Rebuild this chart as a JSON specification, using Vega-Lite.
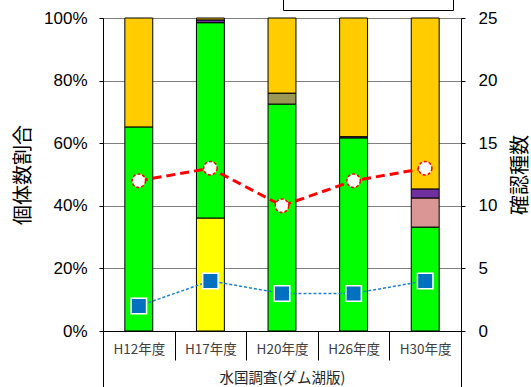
{
  "$schema": "https://vega.github.io/schema/vega-lite/v6.json",
  "width": 358,
  "height": 313,
  "autosize": {"type": "none"},
  "padding": {"left": 103, "top": 18, "right": 70, "bottom": 56},
  "background": "white",
  "config": {
    "view": {"stroke": "#7f7f7f", "strokeWidth": 1},
    "font": "Liberation Sans"
  },
  "datasets": {
    "bars": [
      {"survey": "H12年度", "species": "種Ｂ", "ord": 2, "share": 0.652},
      {"survey": "H12年度", "species": "その他", "ord": 6, "share": 0.348},
      {"survey": "H17年度", "species": "種Ａ", "ord": 1, "share": 0.361},
      {"survey": "H17年度", "species": "種Ｂ", "ord": 2, "share": 0.624},
      {"survey": "H17年度", "species": "種Ｅ", "ord": 5, "share": 0.009},
      {"survey": "H17年度", "species": "その他", "ord": 6, "share": 0.006},
      {"survey": "H20年度", "species": "種Ｂ", "ord": 2, "share": 0.725},
      {"survey": "H20年度", "species": "種Ｄ", "ord": 4, "share": 0.035},
      {"survey": "H20年度", "species": "その他", "ord": 6, "share": 0.240},
      {"survey": "H26年度", "species": "種Ｂ", "ord": 2, "share": 0.617},
      {"survey": "H26年度", "species": "種Ｅ", "ord": 5, "share": 0.004},
      {"survey": "H26年度", "species": "その他", "ord": 6, "share": 0.379},
      {"survey": "H30年度", "species": "種Ｂ", "ord": 2, "share": 0.332},
      {"survey": "H30年度", "species": "種Ｃ", "ord": 3, "share": 0.093},
      {"survey": "H30年度", "species": "種Ｅ", "ord": 5, "share": 0.029},
      {"survey": "H30年度", "species": "その他", "ord": 6, "share": 0.546}
    ],
    "lines": [
      {"survey": "H12年度", "series": "全種", "count": 12},
      {"survey": "H17年度", "series": "全種", "count": 13},
      {"survey": "H20年度", "series": "全種", "count": 10},
      {"survey": "H26年度", "series": "全種", "count": 12},
      {"survey": "H30年度", "series": "全種", "count": 13},
      {"survey": "H12年度", "series": "外来種", "count": 2},
      {"survey": "H17年度", "series": "外来種", "count": 4},
      {"survey": "H20年度", "series": "外来種", "count": 3},
      {"survey": "H26年度", "series": "外来種", "count": 3},
      {"survey": "H30年度", "series": "外来種", "count": 4}
    ]
  },
  "encoding": {
    "x": {
      "field": "survey",
      "type": "nominal",
      "sort": ["H12年度", "H17年度", "H20年度", "H26年度", "H30年度"],
      "scale": {"paddingInner": 0, "paddingOuter": 0},
      "title": "水国調査(ダム湖版)",
      "axis": {
        "orient": "bottom",
        "labelAngle": 0,
        "tickBand": "extent",
        "tickSize": {"condition": {"test": "!datum.value || datum.value == 'H30年度'", "value": 56}, "value": 29},
        "tickColor": "black",
        "tickWidth": 1,
        "domainColor": "black",
        "labelFont": "Noto Sans CJK JP",
        "labelFontSize": 13.5,
        "labelColor": "#404040",
        "labelPadding": {"condition": {"test": "datum.value == 'H30年度'", "value": -45}, "value": -18},
        "titleFont": "Noto Sans CJK JP",
        "titleFontSize": 14.5,
        "titleFontWeight": "normal",
        "titleColor": "#262626",
        "titleY": 47,
        "titleBaseline": "middle",
        "grid": false
      }
    }
  },
  "layer": [
    {
      "data": {"name": "bars"},
      "mark": {"type": "bar", "stroke": "black", "strokeWidth": 1, "width": {"band": 0.39}},
      "encoding": {
        "y": {
          "field": "share",
          "type": "quantitative",
          "stack": true,
          "scale": {"domain": [0, 1], "nice": false},
          "title": "個体数割合",
          "axis": {
            "values": [0, 0.2, 0.4, 0.6, 0.8, 1],
            "format": ".0%",
            "grid": true,
            "gridColor": "#7f7f7f",
            "gridWidth": 1,
            "domainColor": "black",
            "tickColor": "black",
            "tickSize": 4,
            "labelPadding": 12,
            "labelFontSize": 17,
            "labelColor": "black",
            "titleFont": "Noto Sans CJK JP",
            "titleFontSize": 20,
            "titleFontWeight": "normal",
            "titleColor": "black",
            "titlePadding": 10
          }
        },
        "fill": {
          "field": "species",
          "type": "nominal",
          "scale": {
            "domain": ["種Ａ", "種Ｂ", "種Ｃ", "種Ｄ", "種Ｅ", "その他"],
            "range": ["#FFFF00", "#00FF00", "#D99694", "#999955", "#7030A0", "#FFCC00"]
          },
          "legend": {
            "orient": "none",
            "legendX": 180,
            "legendY": -136,
            "title": null,
            "direction": "vertical",
            "columns": 1,
            "symbolType": "square",
            "symbolSize": 100,
            "symbolStrokeColor": "black",
            "labelFont": "Noto Sans CJK JP",
            "labelFontSize": 10,
            "labelOffset": 104,
            "padding": 12,
            "rowPadding": 2,
            "strokeColor": "black",
            "fillColor": "white"
          }
        },
        "order": {"field": "ord", "type": "quantitative"}
      }
    },
    {
      "data": {"name": "lines"},
      "encoding": {
        "y": {
          "field": "count",
          "type": "quantitative",
          "scale": {"domain": [0, 25], "nice": false},
          "title": "確認種数",
          "axis": {
            "orient": "right",
            "values": [0, 5, 10, 15, 20, 25],
            "grid": false,
            "domainColor": "black",
            "tickColor": "black",
            "tickSize": 4,
            "labelPadding": 13,
            "labelFontSize": 17,
            "labelColor": "black",
            "titleFont": "Noto Sans CJK JP",
            "titleFontSize": 20,
            "titleFontWeight": "normal",
            "titleColor": "black",
            "titleAngle": 270,
            "titleBaseline": "top",
            "titlePadding": 14
          }
        }
      },
      "layer": [
        {
          "transform": [{"filter": "datum.series == '全種'"}],
          "mark": {"type": "line", "color": "#FF0000", "strokeWidth": 3, "strokeDash": [9, 5]}
        },
        {
          "transform": [{"filter": "datum.series == '全種'"}],
          "mark": {"type": "point", "shape": "circle", "filled": true, "fill": "white", "stroke": "#FF0000", "strokeWidth": 1.5, "strokeDash": [3, 2], "size": 180, "opacity": 1}
        },
        {
          "transform": [{"filter": "datum.series == '外来種'"}],
          "mark": {"type": "line", "color": "#1F7FD0", "strokeWidth": 1.5, "strokeDash": [3, 2]}
        },
        {
          "transform": [{"filter": "datum.series == '外来種'"}],
          "mark": {"type": "point", "shape": "square", "filled": true, "fill": "#0070C0", "stroke": "white", "strokeWidth": 1.5, "size": 240, "opacity": 1}
        }
      ]
    }
  ],
  "resolve": {"scale": {"y": "independent"}}
}
